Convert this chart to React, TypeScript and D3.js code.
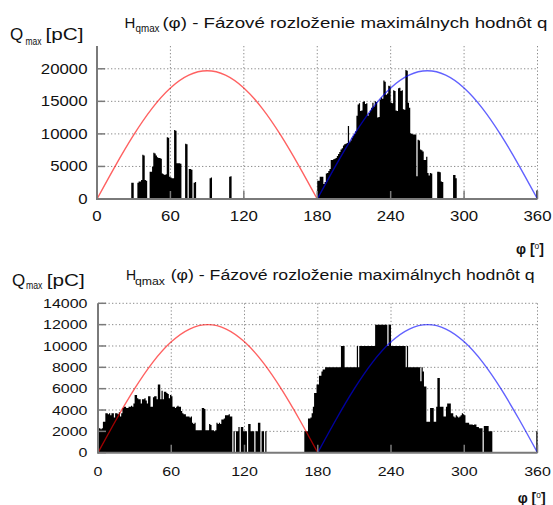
import React from "react";
import * as d3 from "d3";

// ---------- data ----------
const phaseTicks = [0, 60, 120, 180, 240, 300, 360];
const topQTicks = [0, 5000, 10000, 15000, 20000];
const bottomQTicks = [0, 2000, 4000, 6000, 8000, 10000, 12000, 14000];

// top histogram (1 degree bins), values in pC
const topLeftStart = 28;
const topLeftQ = [
  2500, 2500, 0, 0, 0, 2500, 2700, 2700, 2900, 6800, // 28-37
  6700, 2900, 2800, 0, 0, 4200, 4200, 5000, 7100, 7000, // 38-47
  6700, 6400, 6300, 6300, 6200, 3900, 3800, 3700, 3800, 9500, // 48-57
  9400, 3400, 3300, 3200, 3200, 10600, 10500, 5500, 5500, 5500, // 58-67
  5400, 0, 0, 0, 8500, 8400, 0, 4600, 4600, 4500, // 68-77
  0, 2500, 2600, 0, 0, 0, 0, 0, 0, 0, // 78-87
  0, 0, 0, 0, 3200, 3300, 0, 0, 0, 0, // 88-97
  0, 0, 0, 0, 0, 0, 0, 0, 0, 0, // 98-107
  3400, 3500, // 108-109
];
const topRightStart = 180;
const topRightQ = [
  2800, 2800, 3400, 3400, 3400, 2300, 2600, 3900, 4000, 4300, // 180-189
  4600, 6000, 6000, 6100, 6200, 6300, 6600, 6900, 7200, 7600, // 190-199
  7800, 8200, 8400, 8500, 8600, 11200, 8700, 9000, 9400, 9700, // 200-209
  10000, 10400, 12800, 14500, 14700, 13500, 13600, 14900, 15000, 14600, // 210-219
  14700, 12800, 13200, 13600, 14000, 14800, 14200, 15000, 14900, 12500, // 220-229
  12600, 15300, 15600, 15400, 18200, 18000, 16000, 16200, 17400, 17300, // 230-239
  14800, 14700, 16700, 16600, 13600, 13500, 17000, 17100, 16600, 16700, // 240-249
  13800, 13700, 19800, 19700, 14800, 14000, 10100, 10000, 9900, 9900, // 250-259
  9900, 3500, 9100, 9000, 7600, 7500, 7300, 6000, 6000, 6500, // 260-269
  4000, 3600, 4000, 3900, 0, 0, 0, 0, 4200, 4200, // 270-279
  4100, 2700, 2600, 0, 0, 0, 0, 0, 0, 0, // 280-289
  0, 3700, 3700, 3200, // 290-293
];
const topEdgeStart = 359;
const topEdgeQ = [1300];

// bottom histogram
const bottomLeftStart = 0;
const bottomLeftQ = [
  2300, 2300, 2200, 2300, 2900, 2900, 3700, 3700, 3600, 3700, // 0-9
  3500, 3700, 3700, 3300, 3700, 3700, 3600, 3800, 3400, 3700, // 10-19
  4200, 4300, 4300, 4200, 4200, 4300, 4300, 4400, 4300, 4600, // 20-29
  5400, 5400, 5100, 5000, 5000, 4600, 5000, 5000, 5100, 4900, // 30-39
  4600, 5300, 5300, 4300, 4300, 5200, 5300, 5300, 5000, 6400, // 40-49
  6400, 5000, 5800, 5000, 5700, 5700, 5600, 5500, 5100, 5400, // 50-59
  5300, 4300, 4300, 4200, 4300, 4400, 4300, 4300, 3900, 3700, // 60-69
  3600, 3600, 3400, 3400, 3400, 3300, 3400, 2800, 2700, 2800, // 70-79
  2100, 2100, 2100, 2100, 2100, 4200, 4200, 4100, 2100, 2100, // 80-89
  2100, 2700, 2600, 2100, 2100, 2000, 2100, 2800, 2700, 2800, // 90-99
  2700, 3100, 3100, 3200, 3500, 3500, 3500, 3600, 3400, 3400, // 100-109
  0, 2000, 0, 2000, 2000, 2400, 0, 2400, 2400, 2000, // 110-119
  2000, 2000, 0, 2700, 2700, 2000, 2000, 2000, 0, 2000, // 120-129
  2000, 2800, 2800, 0, 2000, 2000, 0, 2000, // 130-137
];
const bottomRightStart = 169;
const bottomRightQ = [
  2000, 2000, 2000, 3200, 3200, 3300, 3700, 4300, 5600, 5600, // 169-178
  6400, 6400, 7200, 7200, 7600, 7800, 7800, 8000, 8000, 8000, // 179-188
  8000, 8000, 8000, 8000, 8000, 8000, 8000, 8000, 8000, 8000, // 189-198
  10000, 10000, 10000, 8000, 8000, 8000, 8000, 8000, 8000, 8000, // 199-208
  8000, 8000, 8000, 10000, 8000, 10000, 10000, 10000, 10000, 10000, // 209-218
  10000, 10000, 10000, 10000, 10000, 10000, 10000, 10000, 12000, 12000, // 219-228
  12000, 12000, 12000, 12000, 12000, 12000, 12000, 12000, 10000, 12000, // 229-238
  12000, 10000, 10000, 10000, 10000, 10000, 10000, 10000, 10000, 10000, // 239-248
  10000, 10000, 10000, 8000, 10000, 8000, 8000, 8000, 8000, 8000, // 249-258
  8000, 8000, 8000, 8000, 8000, 6700, 8000, 7600, 6200, 6200, // 259-268
  2900, 2900, 2900, 4200, 4200, 4200, 2900, 2900, 4300, 7000, // 269-278
  7000, 4300, 4300, 4300, 3400, 3400, 4300, 4600, 4600, 4600, // 279-288
  3700, 3700, 3400, 3300, 3500, 3400, 3300, 3400, 3500, 3700, // 289-298
  3600, 3500, 2800, 2800, 2800, 2650, 2650, 2650, 2600, 2650, // 299-308
  2650, 2400, 2400, 2300, 2300, 2300, 0, 2500, 2500, 2500, // 309-318
  2500, 2000, 2000, 2000, // 319-322
];
const bottomEdgeStart = 359;
const bottomEdgeQ = [2000];

// reference sinusoids (read at 15 degree steps)
const redPhase = [0, 15, 30, 45, 60, 75, 90, 105, 120, 135, 150, 165, 180];
const bluePhase = [180, 195, 210, 225, 240, 255, 270, 285, 300, 315, 330, 345, 360];
const topWaveQ = [0, 5100, 9850, 13930, 17060, 19030, 19700, 19030, 17060, 13930, 9850, 5100, 0];
const bottomWaveQ = [0, 3110, 6000, 8490, 10390, 11590, 12000, 11590, 10390, 8490, 6000, 3110, 0];

const titleMain = "H";
const titleSub = "qmax";
const titleRest = "(\u03c6) - Fázové rozloženie maximálnych hodnôt q";
const yLabelMain = "Q";
const yLabelSub = "max";
const yLabelUnit = "[pC]";

// ---------- drawing ----------
const FONT = "'Liberation Sans', Arial, Helvetica, sans-serif";

function buildBins(blocks: [number, number[]][]) {
  const arr: number[] = new Array(360).fill(0);
  blocks.forEach(([s, vals]) => vals.forEach((v, i) => (arr[s + i] = v)));
  return arr;
}

type PanelProps = {
  xr: [number, number];
  yr: [number, number];
  yMax: number;
  yTicks: number[];
  bins: number[];
  wave: number[];
  tickFont: number;
  tickSx: number;
  yLabelRight: number;
  xLabelBase: number;
  title: { hx: number; hy: number; hs: number; sx: number; sy: number; ss: number; sl: number; rx: number; rl: number };
  ylab: { qx: number; qy: number; qs: number; mx: number; my: number; ms: number; ml: number; ux: number; ul: number };
  phi: { x: number; y: number; s: number };
};

function Panel(p: PanelProps) {
  const x = d3.scaleLinear().domain([0, 360]).range(p.xr);
  const y = d3.scaleLinear().domain([0, p.yMax]).range(p.yr);
  const [yBase, yTop] = p.yr;

  const pts: [number, number][] = p.bins.map((v, i) => [i, v] as [number, number]);
  pts.push([360, 0]);
  const area = d3
    .area<[number, number]>()
    .x((d) => x(d[0]))
    .y0(y(0))
    .y1((d) => y(d[1]))
    .curve(d3.curveStepAfter);

  const line = d3
    .line<[number, number]>()
    .x((d) => x(d[0]))
    .y((d) => y(d[1]))
    .curve(d3.curveNatural);
  const red = redPhase.map((ph, i) => [ph, p.wave[i]] as [number, number]);
  const blue = bluePhase.map((ph, i) => [ph, p.wave[i]] as [number, number]);

  const grid = "#8a8a8a";
  const axis = "#7a7a7a";

  return (
    <g>
      {p.yTicks.filter((t) => t > 0).map((t) => (
        <line key={"gy" + t} x1={p.xr[0]} x2={p.xr[1]} y1={y(t)} y2={y(t)} stroke={grid} strokeWidth={1} strokeDasharray="1.3,2.2" />
      ))}
      {phaseTicks.filter((t) => t > 0).map((t) => (
        <line key={"gx" + t} x1={x(t)} x2={x(t)} y1={yTop} y2={yBase} stroke={grid} strokeWidth={1} strokeDasharray="1.3,2.2" />
      ))}
      <path d={area(pts) || ""} fill="#000" stroke="none" />
      <path d={line(red) || ""} fill="none" stroke="#ff0000" strokeOpacity={0.62} strokeWidth={1.4} />
      <path d={line(blue) || ""} fill="none" stroke="#0000ff" strokeOpacity={0.62} strokeWidth={1.4} />
      <line x1={p.xr[0]} x2={p.xr[1]} y1={yBase} y2={yBase} stroke={axis} strokeWidth={2} />
      <line x1={p.xr[0]} x2={p.xr[0]} y1={yTop} y2={yBase + 1} stroke={axis} strokeWidth={2} />
      {p.yTicks.map((t) => (
        <line key={"ty" + t} x1={p.xr[0]} x2={p.xr[0] + 8} y1={y(t)} y2={y(t)} stroke={axis} strokeWidth={1.5} />
      ))}
      {phaseTicks.map((t) => (
        <line key={"tx" + t} x1={x(t)} x2={x(t)} y1={yBase} y2={yBase - 8} stroke={axis} strokeWidth={1.5} />
      ))}
      {p.yTicks.map((t) => (
        <text
          key={"ly" + t}
          transform={`translate(${p.yLabelRight},${y(t) + p.tickFont * 0.36}) scale(${p.tickSx},1)`}
          textAnchor="end"
          fontSize={p.tickFont}
          fontFamily={FONT}
          fill="#111"
        >
          {t}
        </text>
      ))}
      {phaseTicks.map((t) => (
        <text
          key={"lx" + t}
          transform={`translate(${x(t)},${p.xLabelBase}) scale(${p.tickSx},1)`}
          textAnchor="middle"
          fontSize={p.tickFont}
          fontFamily={FONT}
          fill="#111"
        >
          {t}
        </text>
      ))}
      <text x={p.title.hx} y={p.title.hy} fontSize={p.title.hs} fontFamily={FONT} fill="#111">{titleMain}</text>
      <text x={p.title.sx} y={p.title.sy} fontSize={p.title.ss} fontFamily={FONT} fill="#111" textLength={p.title.sl} lengthAdjust="spacingAndGlyphs">{titleSub}</text>
      <text x={p.title.rx} y={p.title.hy} fontSize={p.title.hs} fontFamily={FONT} fill="#111" textLength={p.title.rl} lengthAdjust="spacingAndGlyphs">{titleRest}</text>
      <text x={p.ylab.qx} y={p.ylab.qy} fontSize={p.ylab.qs} fontFamily={FONT} fill="#111">{yLabelMain}</text>
      <text x={p.ylab.mx} y={p.ylab.my} fontSize={p.ylab.ms} fontFamily={FONT} fill="#111" textLength={p.ylab.ml} lengthAdjust="spacingAndGlyphs">{yLabelSub}</text>
      <text x={p.ylab.ux} y={p.ylab.qy} fontSize={p.ylab.qs} fontFamily={FONT} fill="#111" textLength={p.ylab.ul} lengthAdjust="spacingAndGlyphs">{yLabelUnit}</text>
      <text x={p.phi.x} y={p.phi.y} fontSize={p.phi.s} fontFamily={FONT} fill="#111" fontWeight="bold">
        {"\u03c6 ["}
        <tspan dy={-5} fontSize={p.phi.s * 0.6} fontWeight="normal">o</tspan>
        <tspan dy={5}>]</tspan>
      </text>
    </g>
  );
}

export default function App() {
  const topBins = buildBins([
    [topLeftStart, topLeftQ],
    [topRightStart, topRightQ],
    [topEdgeStart, topEdgeQ],
  ]);
  const bottomBins = buildBins([
    [bottomLeftStart, bottomLeftQ],
    [bottomRightStart, bottomRightQ],
    [bottomEdgeStart, bottomEdgeQ],
  ]);
  return (
    <svg width={553} height={505} style={{ position: "absolute", left: 0, top: 0, background: "#fff" }}>
      <rect x={0} y={0} width={553} height={505} fill="#fff" />
      <Panel
        xr={[97, 537.5]}
        yr={[199, 46]}
        yMax={23500}
        yTicks={topQTicks}
        bins={topBins}
        wave={topWaveQ}
        tickFont={14}
        tickSx={1.2}
        yLabelRight={87.5}
        xLabelBase={221}
        title={{ hx: 124.5, hy: 27.5, hs: 15, sx: 135.5, sy: 32, ss: 10, sl: 24, rx: 162.4, rl: 385 }}
        ylab={{ qx: 10, qy: 40, qs: 17, mx: 25.5, my: 45, ms: 10, ml: 16, ux: 45.5, ul: 38 }}
        phi={{ x: 516, y: 254, s: 14 }}
      />
      <Panel
        xr={[98, 537.5]}
        yr={[452.7, 303.3]}
        yMax={14000}
        yTicks={bottomQTicks}
        bins={bottomBins}
        wave={bottomWaveQ}
        tickFont={13}
        tickSx={1.23}
        yLabelRight={87.5}
        xLabelBase={476}
        title={{ hx: 126, hy: 280, hs: 14, sx: 135, sy: 284.5, ss: 10, sl: 30, rx: 170.7, rl: 364 }}
        ylab={{ qx: 12, qy: 285.5, qs: 17, mx: 26, my: 289, ms: 10, ml: 16.5, ux: 46.7, ul: 38 }}
        phi={{ x: 517.7, y: 503, s: 14 }}
      />
    </svg>
  );
}
